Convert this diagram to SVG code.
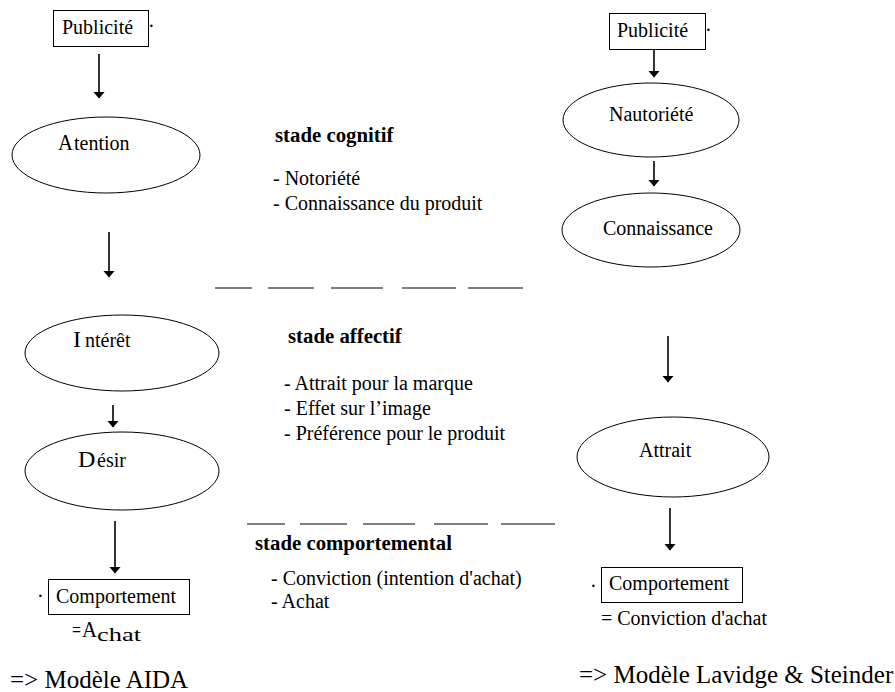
<svg xmlns="http://www.w3.org/2000/svg" width="895" height="692" viewBox="0 0 895 692">
  <style>
    text { font-family: "Liberation Serif", Tinos, "DejaVu Serif", serif; font-size: 20px; fill: #000; }
    .b { font-weight: bold; font-size: 20.8px; }
    .big { font-size: 24px; }
    .model { font-size: 25px; }
    .sub { font-size: 18px; }
    .shape { fill: #fff; stroke: #000; stroke-width: 1; }
    .arrow { stroke: #000; stroke-width: 1.6; fill: none; marker-end: url(#head); }
    .dash { stroke: #000; stroke-width: 1.2; }
  </style>
  <defs>
    <marker id="head" markerUnits="userSpaceOnUse" markerWidth="7" markerHeight="12" viewBox="0 0 7 12" refX="6.5" refY="6" orient="auto">
      <path d="M0,0 L7,6 L0,12 Z" fill="#000"/>
    </marker>
  </defs>
  <rect width="895" height="692" fill="#fff"/>

  <!-- connectors -->
  <g id="connectors">
    <line class="arrow" x1="99" y1="54" x2="99" y2="98"/>
    <line class="arrow" x1="109" y1="232" x2="109" y2="277"/>
    <line class="arrow" x1="113" y1="405" x2="113" y2="427"/>
    <line class="arrow" x1="115" y1="521" x2="115" y2="573"/>
    <line class="arrow" x1="654" y1="49" x2="654" y2="77"/>
    <line class="arrow" x1="654" y1="161" x2="654" y2="186"/>
    <line class="arrow" x1="668" y1="336" x2="668" y2="382"/>
    <line class="arrow" x1="670" y1="508" x2="670" y2="550"/>
  </g>

  <!-- AIDA column -->
  <g id="pub-left">
    <rect class="shape" x="53.5" y="10.5" width="95" height="36"/>
    <text x="62" y="34">Publicité</text>
    <text x="148" y="33">·</text>
  </g>
  <g id="attention">
    <ellipse class="shape" cx="106" cy="155" rx="94" ry="38"/>
    <text class="big" x="58" y="150" textLength="15" lengthAdjust="spacingAndGlyphs">A</text>
    <text x="74" y="150">tention</text>
  </g>
  <g id="interet">
    <ellipse class="shape" cx="122" cy="353" rx="97" ry="38"/>
    <text class="big" x="73" y="347">I</text>
    <text x="85" y="347">ntérêt</text>
  </g>
  <g id="desir">
    <ellipse class="shape" cx="122" cy="471" rx="97" ry="39"/>
    <text class="big" x="78" y="467">D</text>
    <text x="97" y="467">ésir</text>
  </g>
  <g id="comportement-left">
    <rect class="shape" x="48.5" y="579.5" width="141" height="35"/>
    <text x="56" y="603">Comportement</text>
    <text x="37" y="603">·</text>
    <text x="72" y="637" textLength="9" lengthAdjust="spacingAndGlyphs">=</text>
    <text class="big" x="82" y="637" textLength="15" lengthAdjust="spacingAndGlyphs">A</text>
    <text class="sub" x="97" y="641" textLength="44" lengthAdjust="spacingAndGlyphs">chat</text>
  </g>
  <g id="model-aida">
    <text class="model" x="10" y="688">=&gt; Modèle AIDA</text>
  </g>

  <!-- stages in the middle -->
  <g id="stade-cognitif">
    <text class="b" x="275" y="142">stade cognitif</text>
    <text x="273" y="185">- Notoriété</text>
    <text x="273" y="210">- Connaissance du produit</text>
  </g>
  <g id="separator-1">
    <line class="dash" x1="215" y1="288" x2="252" y2="288"/>
    <line class="dash" x1="268" y1="288" x2="314" y2="288"/>
    <line class="dash" x1="331" y1="288" x2="383" y2="288"/>
    <line class="dash" x1="402" y1="288" x2="456" y2="288"/>
    <line class="dash" x1="468" y1="288" x2="523" y2="288"/>
  </g>
  <g id="stade-affectif">
    <text class="b" x="288" y="343">stade affectif</text>
    <text x="284" y="390">- Attrait pour la marque</text>
    <text x="284" y="415">- Effet sur l’image</text>
    <text x="284" y="440">- Préférence pour le produit</text>
  </g>
  <g id="separator-2">
    <line class="dash" x1="247" y1="524" x2="285" y2="524"/>
    <line class="dash" x1="300" y1="524" x2="347" y2="524"/>
    <line class="dash" x1="363" y1="524" x2="415" y2="524"/>
    <line class="dash" x1="434" y1="524" x2="488" y2="524"/>
    <line class="dash" x1="501" y1="524" x2="555" y2="524"/>
  </g>
  <g id="stade-comportemental">
    <text class="b" x="255" y="550">stade comportemental</text>
    <text x="271" y="585">- Conviction (intention d'achat)</text>
    <text x="271" y="608">- Achat</text>
  </g>

  <!-- Lavidge & Steiner column -->
  <g id="pub-right">
    <rect class="shape" x="609.5" y="13.5" width="96" height="36"/>
    <text x="617" y="37">Publicité</text>
    <text x="705" y="37">·</text>
  </g>
  <g id="nautoriete">
    <ellipse class="shape" cx="651" cy="120" rx="88" ry="37"/>
    <text x="609" y="121">Nautoriété</text>
  </g>
  <g id="connaissance">
    <ellipse class="shape" cx="651" cy="230" rx="89" ry="37"/>
    <text x="603" y="235">Connaissance</text>
  </g>
  <g id="attrait">
    <ellipse class="shape" cx="673" cy="457" rx="96" ry="40"/>
    <text x="639" y="457">Attrait</text>
  </g>
  <g id="comportement-right">
    <rect class="shape" x="601.5" y="567.5" width="141" height="35"/>
    <text x="609" y="590">Comportement</text>
    <text x="590" y="593">·</text>
    <text x="601" y="625">= Conviction d'achat</text>
  </g>
  <g id="model-lavidge">
    <text class="model" x="579" y="683">=&gt; Modèle Lavidge &amp; Steinder</text>
  </g>
</svg>
